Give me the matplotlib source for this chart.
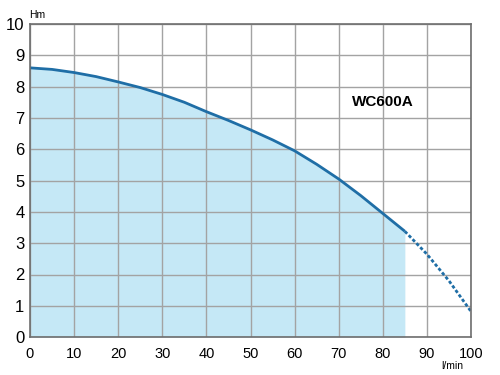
import numpy as np
import matplotlib.pyplot as plt
from matplotlib.patches import Rectangle

# pump curve WC600A
flow = [0, 5, 10, 15, 20, 25, 30, 35, 40, 45, 50, 55, 60, 65, 70, 75, 80, 85]
head = [8.6, 8.55, 8.45, 8.32, 8.15, 7.97, 7.75, 7.5, 7.2, 6.92, 6.62, 6.3, 5.95, 5.52, 5.05, 4.52, 3.95, 3.38]
flow_ext = [85, 90, 95, 100]
head_ext = [3.38, 2.65, 1.8, 0.82]
model = "WC600A"

LINE = "#1f6ea6"
FILL = "#c5e8f6"
GRID = "#a3a3a3"

plt.rcParams["font.family"] = ["Liberation Sans", "DejaVu Sans"]

fig = plt.figure(figsize=(5, 3.75), dpi=100)
ax = fig.add_axes([0.06, 0.101, 0.882, 0.835])

ax.fill_between(flow, head, 0, color=FILL, lw=0, zorder=1)
ax.plot(flow, head, color=LINE, lw=2, zorder=3, solid_capstyle="butt")
ax.plot(flow_ext, head_ext, color=LINE, lw=2, ls=(0, (1.2, 0.8)), zorder=3)

ax.set_xlim(0, 100)
ax.set_ylim(0, 10)
ax.set_xticks(np.arange(0, 101, 10))
ax.set_yticks(np.arange(0, 11, 1))
ax.grid(True, color=GRID, lw=1, zorder=2)
ax.set_axisbelow(False)
for s in ax.spines.values():
    s.set_color("#6e6e6e")
    s.set_linewidth(1.2)
    s.set_zorder(4)
ax.tick_params(length=0)
ax.tick_params(axis="x", labelsize=10.5, pad=7)
ax.tick_params(axis="y", labelsize=12, pad=4)

ax.text(-0.002, 1.012, "Hm", transform=ax.transAxes, fontsize=7.5, ha="left", va="bottom")
ax.text(0.982, -0.076, "l/min", transform=ax.transAxes, fontsize=7.5, ha="right", va="top")

# white label box covering the grid cell
ax.add_patch(Rectangle((70.6, 6.96), 19.2, 1.08, facecolor="white", edgecolor="none", zorder=2.5))
ax.text(80, 7.5, model, fontsize=11, fontweight="bold", ha="center", va="center", zorder=5)

fig.savefig("out.png", dpi=100)
